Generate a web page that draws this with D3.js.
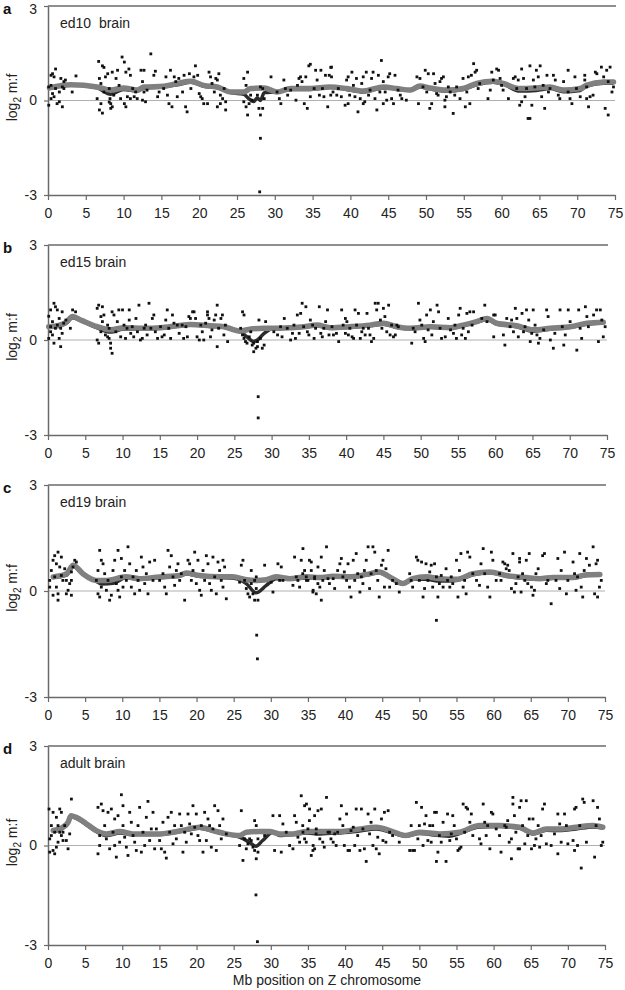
<!DOCTYPE html>
<html>
<head>
<meta charset="utf-8">
<script src="https://cdn.jsdelivr.net/npm/d3@7"></script>
<style>
  body { margin: 0; background: #fff; }
  svg { font-family: "Liberation Sans", Arial, sans-serif; }
</style>
</head>
<body>
<div id="chart"></div>
<script>

// x ticks (Mb) and y ticks (log2 m:f)
const xTicks = [0, 5, 10, 15, 20, 25, 30, 35, 40, 45, 50, 55, 60, 65, 70, 75];
const yTicks = [-3, 0, 3];
const panelLetters = ["a", "b", "c", "d"];
const panelNames = ["ed10  brain", "ed15 brain", "ed19 brain", "adult brain"];

// points: [Mb position, log2 m:f]
const ed10Points = [[0.4,0.48],[0.4,0.8],[0.6,0.85],[0.8,0.75],[1.0,1.0],[0.1,-0.15],[0.4,0.06],[1.2,-0.1],[1.5,-0.04],[1.9,-0.2],[1.7,0.7],[2.1,0.6],[2.3,0.65],[1.0,0.38],[1.5,0.27],[1.9,0.43],[0.6,0.22],[0.8,0.12],[0.1,0.43],[2.1,0.38],[3.7,0.78],[3.2,0.27],
[6.7,1.24],[7.2,1.1],[7.4,1.05],[6.8,0.7],[7.0,0.54],[6.5,0.06],[6.8,-0.3],[7.2,-0.4],[7.0,-0.1],[7.4,0.27],[7.6,0.75],[7.9,0.85],[8.1,0.38],[8.2,0.06],[8.3,-0.1],[8.5,-0.2],[8.5,0.9],[8.7,0.17],[8.3,-0.25],[8.1,-0.05],[9.0,0.7],[9.2,0.96],[9.4,0.48],[9.6,0.06],[9.8,1.38],[10.1,1.22],[10.3,0.9],[10.1,-0.1],[10.3,-0.2],[10.5,0.12],[10.7,1.0],[10.9,0.8],[11.2,0.38],[10.9,0.06],[11.4,0.12],[11.6,0.27],[11.8,0.06],[12.3,0.96],[12.7,0.96],[12.5,0.6],[12.7,0.27],[12.5,0.01],[12.9,-0.04],[13.1,0.33],[13.6,1.48],[14.0,0.8],[14.2,0.93],[14.5,0.12],[14.7,0.27],
[15.3,0.38],[15.6,0.75],[15.8,0.17],[16.0,-0.1],[16.2,0.96],[16.4,-0.2],[16.7,0.75],[16.9,0.6],[17.1,0.12],[17.3,0.7],[17.8,0.27],[18.0,0.8],[18.2,-0.2],[18.4,-0.36],[18.7,0.85],[18.9,0.38],[19.3,0.75],[19.5,1.1],[19.8,0.8],[20.0,0.22],[20.2,0.12],[20.4,0.06],[20.6,-0.1],[21.1,-0.1],[21.3,0.9],[21.5,0.75],[21.7,0.54],[22.0,0.27],[22.2,0.7],[22.4,0.65],[22.6,0.85],[22.8,-0.1],[23.1,0.06],[23.3,0.38],[23.5,-0.3],[22.4,-0.2],[22.8,0.17],[23.5,-0.04],
[25.9,0.7],[26.2,0.48],[26.4,0.9],[25.9,-0.04],[26.2,-0.2],[26.4,-0.46],[26.6,-0.1],[26.8,0.17],[27.0,0.01],[27.7,0.17],[27.9,-0.25],[28.1,-0.46],[28.4,-0.25],[28.1,0.43],[28.4,0.38],[28.6,0.06],[28.1,-1.2],[28.0,-2.9],
[29.5,0.75],[30.3,0.27],[30.6,0.06],[30.8,-0.1],[31.2,0.65],[31.4,0.38],[31.7,0.17],[32.1,0.33],[32.8,0.01],[33.0,0.48],[33.2,0.7],[33.4,0.75],[33.6,0.6],[33.9,-0.1],[34.1,0.75],[34.3,-0.25],[34.5,1.1],[34.7,1.15],[34.7,0.12],[35.2,0.38],[35.4,0.96],[35.6,0.65],[35.9,0.17],[36.1,0.96],[36.3,0.38],[36.5,0.12],[36.7,0.8],[37.0,-0.2],[37.2,0.8],[37.4,1.05],[37.4,0.17],
[37.5,1.06],[37.5,0.75],[37.7,0.27],[38.2,0.17],[38.4,0.38],[38.8,0.12],[39.3,-0.15],[39.5,0.65],[39.7,0.75],[39.7,-0.1],[39.9,0.17],[40.2,0.9],[40.4,0.48],[40.6,0.12],[40.8,0.7],[41.0,-0.36],[41.3,0.06],[41.5,0.54],[41.7,0.75],[41.7,-0.1],[41.9,-0.04],[42.1,0.9],[42.4,0.17],[42.6,0.33],[42.8,0.7],[43.0,0.9],[43.25,0.06],[43.5,-0.3],[43.7,0.8],[43.9,0.27],[44.1,1.27],[44.35,0.6],[44.35,-0.1],[44.6,0.27],[44.8,0.01],[45.0,0.75],[45.2,0.85],[45.45,0.06],[45.7,-0.1],[45.9,0.8],[46.3,0.33],[46.6,0.17],[46.8,0.06],[47.4,0.01],
[48.8,0.75],[49.0,-0.1],[49.2,0.7],[49.6,0.43],[49.9,0.96],[50.1,0.27],[50.3,0.85],[50.5,-0.25],[50.75,-0.1],[51.0,0.85],[51.2,0.54],[51.4,0.22],[51.6,0.17],[51.85,0.6],[52.05,0.7],[52.3,0.75],[52.5,0.01],[52.5,-0.2],[52.7,0.12],[52.95,0.43],[53.2,0.27],[53.6,-0.41],[53.8,0.17],[54.05,0.43],[54.5,0.06],[54.9,0.7],[55.2,-0.2],[55.4,0.27],[55.6,0.75],[55.8,-0.1],[56.0,0.8],[56.3,1.17],[56.5,0.9],[56.7,0.96],[56.9,0.38],[57.1,0.54],[58.2,0.06],[58.5,0.33],[58.7,0.9],[58.9,0.65],[59.35,1.0],[59.6,0.96],[59.8,0.7],[60.0,0.48],[60.2,0.33],[60.9,0.06],
[61.55,0.7],[61.8,0.75],[62.0,0.38],[62.2,0.65],[62.4,-0.15],[62.65,1.0],[62.65,-0.04],[62.9,0.7],[63.1,0.12],[63.3,0.38],[63.5,-0.57],[63.75,1.1],[63.75,-0.57],[64.0,-0.15],[64.2,0.65],[64.4,0.43],[64.6,0.96],[64.85,0.75],[65.1,1.1],[65.3,0.12],[65.5,0.48],[65.7,-0.25],[66.0,0.8],[66.2,0.27],[66.4,0.38],[66.85,0.8],[67.1,0.65],[67.5,0.17],[67.7,0.06],[68.2,0.6],[68.8,0.96],[68.8,0.27],[69.05,0.06],[69.3,-0.1],[69.7,0.75],[69.9,0.38],[70.4,0.12],[71.0,0.8],[71.0,0.65],[71.25,0.43],[71.25,0.06],[71.5,-0.2],[71.7,0.12],[72.1,0.17],[72.4,0.9],[72.6,0.85],[73.2,1.06],[73.5,0.75],[73.7,-0.25],[73.9,0.96],[74.1,0.6],[74.1,-0.46],[74.35,1.06],[74.6,0.27],[74.8,0.43]];

const ed15Points = [[0.1,0.75],[0.35,0.95],[0.6,0.58],[0.8,1.16],[1.0,1.05],[1.25,0.95],[1.5,0.68],[0.35,0.26],[0.6,0.16],[0.8,-0.1],[1.0,0.37],[1.25,0.47],[1.5,0.05],[1.7,-0.21],[1.9,0.89],[1.9,0.21],[2.1,0.53],[0.1,0.05],[0.35,0.42],[1.7,0.37],[2.4,0.63],[3.3,0.95],[3.7,0.89],[3.0,0.37],
[6.6,1.0],[6.8,1.1],[7.3,1.05],[7.1,0.74],[6.6,0.0],[6.8,-0.1],[7.1,0.26],[7.3,0.58],[7.5,0.79],[7.7,0.16],[8.0,0.1],[8.2,0.05],[8.4,-0.1],[8.6,-0.42],[8.4,-0.26],[8.2,0.37],[8.0,0.47],[8.6,0.89],[8.85,0.79],[9.1,0.26],[9.3,0.58],[9.5,0.95],[9.75,0.1],[10.0,0.95],[10.2,0.47],[10.4,0.05],[10.6,0.37],[10.9,0.63],[10.9,0.95],[11.1,0.21],[11.3,0.42],[11.5,0.1],[11.8,0.68],[12.0,0.26],[12.2,1.1],[12.4,0.0],[12.65,0.05],[12.9,0.37],[13.1,0.47],[13.3,0.16],[13.55,1.16],[13.8,0.37],[14.0,0.68],[14.2,0.79],[14.4,0.26],[14.7,0.05],
[15.1,0.42],[15.3,0.1],[15.6,0.16],[15.8,0.63],[16.0,0.95],[16.2,0.37],[16.45,0.05],[16.7,0.79],[16.9,0.53],[17.35,0.47],[17.6,0.21],[18.0,0.47],[18.2,0.05],[18.5,0.42],[18.7,0.1],[18.9,0.74],[19.1,0.68],[19.4,0.89],[19.6,0.89],[19.8,0.68],[20.0,0.1],[20.3,0.0],[20.5,0.47],[20.7,0.26],[20.9,0.0],[21.15,0.53],[21.4,0.79],[21.4,0.89],[21.6,0.68],[21.8,0.1],[22.0,0.32],[22.3,0.63],[22.5,0.79],[22.7,1.1],[22.7,-0.21],[22.9,0.37],[23.2,0.68],[23.4,0.79],[23.6,0.16],[23.8,0.47],[24.1,-0.05],
[25.85,0.37],[26.1,0.89],[26.3,0.79],[26.1,0.16],[26.3,0.05],[26.5,-0.05],[26.7,-0.1],[27.0,0.1],[27.2,0.26],[27.4,-0.16],[27.6,-0.1],[27.9,-0.26],[28.1,-0.05],[28.3,0.63],[28.5,0.05],[28.75,-0.26],[29.0,-0.16],[28.1,-0.21],[27.6,-0.37],[29.2,0.58],[28.2,-1.79],[28.2,-2.46],
[30.3,0.26],[30.8,0.16],[31.2,0.42],[31.4,0.1],[31.7,0.68],[32.1,0.37],[32.55,0.0],[32.8,0.21],[33.0,0.47],[33.2,0.05],[33.45,0.79],[33.7,0.21],[33.9,0.84],[34.1,1.16],[34.3,0.42],[34.6,1.05],[34.8,0.26],[35.0,0.16],[35.2,0.63],[35.5,0.47],[35.7,0.05],[35.9,0.37],[36.4,1.05],[36.6,0.21],[36.8,0.1],[37.0,0.37],[37.25,0.58],[37.5,0.95],[37.7,0.16],
[38.1,0.42],[38.3,0.16],[38.7,0.21],[39.0,-0.05],[39.4,0.95],[39.6,0.47],[39.9,0.68],[39.9,0.21],[40.1,0.58],[40.3,0.16],[40.5,0.37],[40.8,0.1],[41.0,0.05],[41.2,0.95],[41.4,0.47],[41.65,0.84],[41.9,0.05],[42.1,0.26],[42.3,0.37],[42.55,0.16],[42.8,0.84],[43.0,0.37],[43.2,0.16],[43.4,-0.05],[43.7,0.05],[43.9,1.16],[44.1,0.95],[44.3,1.16],[44.6,0.63],[44.8,0.37],[45.0,1.0],[45.2,0.74],[45.45,0.26],[45.7,1.1],[45.9,0.16],[46.1,0.47],[46.35,0.1],[46.6,0.16],[46.8,0.47],[47.0,0.42],
[48.8,-0.1],[49.0,0.37],[49.25,0.26],[49.7,1.16],[49.9,0.63],[50.15,0.47],[50.4,0.05],[50.6,-0.05],[50.8,0.79],[51.0,0.32],[51.3,0.95],[51.5,0.16],[51.7,0.58],[52.2,1.1],[52.4,0.89],[52.6,0.37],[52.8,0.05],[53.3,0.1],[53.7,0.68],[54.0,0.32],[54.4,0.21],[54.6,0.47],[54.8,0.05],[55.1,0.79],[55.3,1.0],[55.5,0.16],[55.7,0.37],[56.0,0.05],[56.2,0.84],[56.4,0.26],[56.6,0.89],[56.9,0.47],[57.1,0.89],[58.2,0.68],[58.6,1.1],[58.9,0.58],[59.8,0.79],[59.8,0.1],[60.0,0.79],
[61.1,0.16],[61.3,-0.16],[61.55,0.68],[62.0,0.42],[62.2,0.63],[62.45,0.26],[62.7,1.0],[62.9,0.68],[63.1,0.1],[63.6,0.84],[63.8,0.26],[64.0,0.42],[64.2,0.95],[64.5,0.63],[64.7,-0.05],[64.9,0.21],[65.1,0.95],[65.35,0.47],[65.6,0.16],[65.8,-0.1],[66.0,0.05],[66.5,0.32],[66.9,0.95],[67.1,0.74],[67.4,0.0],[67.8,-0.26],[68.0,0.21],[68.7,0.95],[69.0,0.42],[69.2,-0.16],[69.4,0.16],[69.8,0.95],[70.05,0.58],[70.95,-0.32],[71.2,0.95],[71.4,0.37],[71.6,0.05],[72.1,1.05],[72.3,0.74],[72.5,0.42],[73.2,0.79],[73.6,0.95],[73.85,-0.05],[74.1,0.95],[74.3,0.63],[74.5,0.1],[74.75,0.42]];

const ed19Points = [[0.23,0.3],[0.23,0.11],[0.45,0.58],[0.68,0.87],[0.9,1.0],[1.13,0.77],[1.35,1.1],[0.9,0.4],[1.13,0.11],[1.35,-0.08],[0.68,-0.12],[1.58,0.68],[1.8,0.44],[1.8,0.96],[2.0,0.3],[2.25,0.63],[2.47,-0.08],[2.7,0.02],[2.92,0.21],[3.15,0.54],[3.15,-0.12],[1.35,-0.26],[2.47,0.3],[3.37,0.68],[3.6,0.87],[3.82,0.82],[3.15,0.3],
[6.96,1.15],[7.18,0.87],[6.73,0.58],[6.51,0.3],[6.73,-0.08],[6.96,-0.17],[7.18,0.11],[7.41,0.77],[7.63,0.49],[7.86,0.02],[8.08,0.3],[8.3,-0.26],[8.53,-0.12],[8.75,0.58],[8.98,0.87],[9.2,0.21],[9.43,0.02],[9.65,-0.17],[9.43,1.15],[9.88,0.4],[9.88,0.92],[10.1,0.11],[10.32,0.58],[10.55,0.3],[10.77,1.25],[11.0,0.77],[11.22,0.11],[11.45,0.4],[11.67,-0.08],[11.89,0.58],[12.12,0.3],[12.34,0.02],[12.57,0.96],[12.79,0.68],[13.02,0.21],[13.24,0.49],[13.46,-0.08],[13.69,0.82],[14.14,0.3],[14.36,0.87],
[15.03,0.3],[15.48,0.49],[15.71,0.11],[15.93,-0.08],[16.16,1.15],[16.38,0.68],[16.6,1.0],[16.83,0.4],[17.05,0.16],[17.28,0.58],[17.5,0.77],[17.73,0.3],[17.95,0.49],[18.4,-0.26],[18.85,0.87],[19.07,0.77],[19.3,0.3],[19.52,0.58],[19.75,1.1],[19.97,0.21],[20.19,0.87],[20.42,0.02],[20.64,-0.12],[20.87,0.58],[21.09,0.3],[21.32,1.0],[21.54,0.77],[21.76,0.21],[21.99,0.02],[22.21,0.96],[22.44,0.4],[22.66,-0.08],[22.89,0.82],[23.11,0.58],[23.33,0.3],[23.56,0.87],[23.78,0.68],[24.01,-0.22],[23.56,0.11],
[25.8,0.25],[26.03,0.73],[26.25,0.87],[26.47,0.3],[26.7,0.07],[26.92,-0.08],[27.15,-0.17],[27.37,0.58],[27.6,-0.08],[27.82,-0.26],[28.04,0.07],[28.27,-0.26],[28.04,0.4],[27.82,0.3],[27.37,0.21],[28.1,-1.25],[28.2,-1.92],
[29.17,0.73],[30.06,0.25],[30.29,-0.03],[30.96,0.77],[31.19,0.3],[31.41,0.68],[31.63,0.3],[32.98,0.16],[33.2,0.96],[33.43,0.4],[33.65,0.3],[33.88,0.11],[34.1,0.87],[34.33,1.2],[34.55,0.58],[34.77,0.4],[35.0,0.3],[35.45,0.82],[35.67,-0.03],[35.9,0.4],[36.12,-0.08],[36.34,0.21],
[34.3,0.49],[34.8,0.3],[35.2,0.87],[35.45,0.58],[35.7,0.02],[35.9,0.35],[36.35,0.68],[36.6,0.11],[36.8,0.96],[36.8,-0.26],[37.0,0.3],[37.2,0.58],[37.5,1.25],[37.7,0.35],[37.9,0.21],[38.4,0.35],[38.6,0.07],[39.0,0.58],[39.3,0.77],[39.5,0.92],[39.7,0.4],[39.9,0.54],[40.2,0.3],[40.4,0.77],[40.6,0.11],[40.8,-0.17],[41.1,0.87],[41.3,0.3],[41.5,1.06],[41.7,0.49],[42.0,-0.03],[42.2,0.4],[42.4,0.21],[42.6,0.58],[42.85,0.87],[43.1,1.25],[43.3,0.07],[43.5,0.49],[43.75,1.25],[44.0,1.1],[44.2,0.58],[44.4,0.3],[44.6,-0.17],[44.9,0.73],[45.1,0.87],[45.3,0.11],[45.5,0.63],[45.8,1.15],[46.0,0.11],[46.4,0.3],[46.9,0.21],[47.3,-0.03],
[48.7,0.49],[48.9,0.3],[49.1,0.11],[49.6,0.96],[49.8,0.87],[50.0,0.3],[50.3,0.82],[50.5,-0.17],[50.7,0.07],[50.9,0.77],[51.15,0.3],[51.4,0.54],[51.6,0.73],[51.8,0.11],[52.05,0.77],[52.3,0.4],[52.3,-0.83],[52.5,-0.17],[52.7,0.21],[52.95,0.44],[53.2,0.11],[53.6,0.63],[53.8,0.3],[54.1,0.11],[54.3,0.4],[54.5,0.21],[55.0,0.87],[55.2,-0.17],[55.4,0.58],[55.6,1.06],[55.9,0.11],[56.1,0.3],[56.3,-0.08],[56.5,1.1],[56.8,0.96],[57.2,0.49],[57.7,0.3],[58.1,0.16],[58.3,0.77],[58.6,1.2],[58.8,0.49],[59.2,0.11],[59.5,-0.17],[59.7,1.1],[59.9,0.87],
[60.35,0.3],[60.8,0.49],[61.0,0.3],[61.25,0.82],[61.5,0.77],[61.7,0.63],[61.9,0.73],[62.1,0.58],[62.4,0.07],[62.6,1.06],[62.8,-0.03],[63.0,0.21],[63.3,0.4],[63.5,0.82],[63.5,0.92],[63.7,-0.03],[63.9,0.49],[64.2,0.3],[64.4,0.87],[64.6,0.21],[64.8,1.06],[65.1,0.11],[65.3,-0.12],[65.5,0.02],[65.7,0.49],[66.0,0.63],[66.6,1.0],[66.85,1.06],[67.1,0.21],[67.3,0.3],[67.75,-0.36],[68.4,0.3],[68.65,0.92],[68.9,0.07],[69.1,0.58],[69.55,1.1],[69.8,-0.08],[70.0,0.3],[70.7,0.82],[70.9,0.49],[71.1,0.02],[71.3,0.4],[71.6,1.06],[71.8,0.11],[72.0,-0.17],[72.2,0.58],[72.5,0.92],[72.9,0.73],[73.4,1.25],[73.6,-0.08],[73.8,0.77],[74.0,0.87],[74.0,-0.17],[74.25,0.11],[74.5,0.3]];

const adultPoints = [[0.14,1.1],[0.23,0.2],[0.23,-0.2],[0.45,0.6],[0.68,1.0],[0.9,0.4],[1.13,0.85],[1.35,0.1],[1.58,1.1],[1.8,0.3],[0.68,-0.15],[1.13,-0.05],[0.9,-0.25],[1.58,0.4],[2.02,0.4],[1.35,0.6],[2.25,0.6],[1.8,1.0],[2.7,-0.1],[2.92,0.35],[3.15,1.4],[2.47,0.15],[2.02,0.15],[0.45,0.3],
[6.73,1.15],[6.96,0.3],[6.73,-0.25],[6.96,0.0],[7.18,1.25],[7.41,1.05],[7.63,0.6],[7.86,0.2],[8.08,1.0],[8.3,-0.1],[8.53,1.1],[8.75,0.4],[8.98,0.8],[8.98,0.0],[9.2,-0.35],[9.43,0.9],[9.65,0.1],[9.88,1.53],[10.1,1.2],[10.1,0.6],[10.32,0.25],[10.55,-0.05],[10.77,-0.3],[11.0,1.0],[11.22,0.7],[11.45,0.3],[11.67,0.1],[11.89,-0.15],[12.12,0.6],[12.34,1.15],[12.57,-0.2],[12.79,0.4],[13.02,0.0],[13.24,0.85],[13.46,1.33],[13.69,0.15],[13.91,0.5],[14.14,1.0],[14.36,-0.1],[14.59,0.5],
[15.03,0.15],[15.26,-0.1],[15.48,0.7],[15.71,-0.2],[15.93,-0.38],[16.16,0.85],[16.38,0.4],[16.6,1.0],[16.83,0.05],[17.05,0.6],[17.28,0.2],[17.73,0.95],[17.95,0.6],[18.17,-0.2],[18.4,0.4],[18.62,0.1],[18.85,0.95],[19.07,0.65],[19.3,0.35],[19.52,1.2],[19.75,0.55],[19.97,0.95],[20.19,0.3],[20.42,0.15],[20.64,0.6],[20.87,-0.2],[21.09,1.0],[21.32,0.15],[21.54,0.8],[21.76,0.6],[21.99,-0.05],[22.21,0.5],[22.44,1.2],[22.66,-0.15],[22.89,1.05],[23.11,0.6],[23.33,0.2],[23.56,0.8],[24.01,0.35],
[25.8,0.0],[26.03,1.05],[26.25,-0.45],[26.47,0.2],[26.7,-0.1],[26.92,0.05],[27.15,0.2],[27.37,0.15],[27.6,-0.05],[27.82,0.75],[28.04,0.6],[28.04,-0.4],[28.27,-0.2],[27.82,-0.15],[28.27,0.2],[28.0,-1.49],[28.2,-2.9],
[29.17,0.3],[30.29,0.9],[30.51,-0.15],[31.19,0.9],[31.41,-0.2],[31.63,0.65],[32.08,0.4],[32.53,0.0],[32.98,-0.1],[33.2,0.9],[33.43,0.7],[33.65,0.25],[33.88,0.1],[34.1,1.5],[34.33,0.4],[34.55,1.2],[34.77,0.1],[35.22,1.1],[35.45,-0.3],[35.67,-0.15],[35.9,0.9],[36.12,0.5],
[34.3,0.6],[34.55,0.2],[34.8,1.25],[35.0,0.5],[35.2,0.75],[35.7,0.0],[35.9,-0.1],[36.1,0.35],[36.35,1.05],[36.6,0.2],[36.8,1.1],[37.0,0.1],[37.2,-0.05],[37.5,1.45],[37.7,0.4],[37.9,0.4],[38.1,0.2],[38.4,0.1],[38.6,0.35],[38.8,0.0],[39.0,0.4],[39.3,0.8],[39.5,1.2],[39.7,0.6],[39.9,0.0],[40.2,0.95],[40.4,-0.15],[40.6,-0.15],[40.8,0.45],[41.1,0.55],[41.3,0.0],[41.5,1.1],[41.7,0.3],[42.0,-0.15],[42.2,1.1],[42.4,0.5],[42.6,-0.1],[42.85,-0.48],[43.1,0.95],[43.3,0.35],[43.5,0.7],[43.75,0.0],[44.0,1.1],[44.2,-0.1],[44.4,0.25],[44.6,-0.25],[44.9,0.8],[45.1,0.15],[45.3,1.0],[45.5,0.1],[45.8,1.05],[46.0,0.4],[46.4,0.3],[47.3,0.1],
[48.7,-0.15],[48.9,0.6],[49.1,-0.15],[49.35,-0.15],[49.6,1.3],[49.8,0.2],[50.0,0.6],[50.3,1.15],[50.5,0.0],[50.7,0.65],[50.9,0.9],[51.15,0.15],[51.4,0.6],[51.6,0.1],[51.8,0.6],[52.05,1.0],[52.3,1.0],[52.3,-0.48],[52.5,-0.2],[52.7,0.3],[52.95,0.1],[53.2,0.7],[53.6,-0.48],[53.8,0.95],[54.1,0.15],[54.3,0.35],[54.5,0.9],[54.7,0.6],[55.0,0.2],[55.2,-0.15],[55.4,-0.1],[55.6,-0.05],[55.9,1.25],[56.1,0.4],[56.3,1.15],[56.5,1.1],[56.8,0.7],[57.0,0.95],[57.2,0.3],[58.1,0.2],[58.3,0.05],[58.6,1.25],[58.8,0.7],[59.0,0.3],[59.2,0.6],[59.5,-0.1],[59.7,1.0],[59.9,0.95],
[60.35,0.5],[60.8,0.3],[61.0,-0.2],[61.5,0.6],[61.7,0.55],[61.9,0.75],[62.1,0.1],[62.4,-0.4],[62.4,0.2],[62.6,1.45],[62.6,1.25],[62.8,0.9],[63.0,0.4],[63.3,-0.1],[63.5,1.15],[63.5,-0.1],[63.7,1.35],[63.9,0.6],[64.2,0.05],[64.4,1.35],[64.6,0.3],[64.8,0.8],[65.1,-0.1],[65.3,0.8],[65.5,0.0],[65.7,0.2],[66.0,0.6],[66.2,-0.05],[66.4,0.3],[66.6,1.1],[66.85,1.25],[67.1,0.05],[67.75,0.0],[68.2,0.35],[68.65,0.95],[68.65,-0.25],[68.9,0.65],[69.1,0.1],[69.55,0.95],[69.8,0.6],[70.0,0.05],[70.7,0.15],[70.9,1.1],[70.9,-0.15],[71.1,1.15],[71.3,0.0],[71.6,0.6],[71.8,-0.68],[72.0,1.4],[72.2,1.3],[72.5,0.1],[73.4,1.35],[73.6,-0.35],[73.8,0.6],[74.0,1.15],[74.25,0.8],[74.5,0.0],[74.7,0.1]];

// smoothed trend (light, broad) and second trend (dark) for each panel
const ed10Gray = [[0.2,0.4],[3,0.5],[6.5,0.43],[8.3,0.33],[10,0.4],[11.8,0.33],[12.7,0.43],[15.3,0.45],[17.1,0.54],[18.9,0.61],[20.6,0.48],[22.4,0.43],[24.2,0.27],[25.9,0.27],[26.8,0.38],[28.6,0.4],[30.3,0.27],[32.1,0.38],[34.7,0.38],[37.3,0.43],[39.5,0.38],[41.7,0.3],[44.4,0.43],[46.1,0.38],[47.9,0.33],[49.2,0.46],[50.5,0.4],[52.7,0.33],[54.9,0.38],[56.7,0.54],[58.9,0.61],[60.2,0.54],[62.4,0.38],[64.6,0.4],[66.4,0.43],[68.2,0.33],[70.4,0.38],[71.2,0.48],[73.5,0.59],[74.8,0.59]];
const ed10Dark = [[0.2,0.4],[3,0.5],[6.5,0.4],[8.3,0.2],[10,0.35],[11.8,0.3],[12.7,0.4],[15.3,0.43],[17.1,0.5],[18.9,0.58],[20.6,0.45],[22.4,0.4],[24.2,0.25],[25.9,0.2],[26.6,0.05],[27.2,-0.03],[27.7,0.08],[28.1,0.0],[28.6,0.25],[30.3,0.27],[32.1,0.35],[34.7,0.35],[37.4,0.42],[39.5,0.35],[41.7,0.27],[44.4,0.4],[46.1,0.36],[47.9,0.32],[49.2,0.43],[50.5,0.37],[52.7,0.3],[54.9,0.35],[56.7,0.5],[58.9,0.58],[60.2,0.52],[62.4,0.3],[64.6,0.32],[66.4,0.38],[68.2,0.28],[70.4,0.32],[71.2,0.45],[73.5,0.55],[74.8,0.55]];

const ed15Gray = [[0.1,0.42],[1.3,0.45],[2.4,0.55],[3.3,0.74],[4.5,0.62],[6.6,0.42],[8.4,0.32],[10.2,0.39],[12.9,0.37],[15.1,0.39],[17.4,0.45],[19.1,0.49],[21.8,0.45],[23.6,0.42],[25.8,0.28],[27.2,0.35],[29,0.37],[30.8,0.37],[32.6,0.39],[34.3,0.42],[36.1,0.47],[37.85,0.39],[40.5,0.42],[43.2,0.47],[45,0.53],[46.8,0.42],[48.6,0.37],[51.3,0.42],[54,0.39],[55.7,0.47],[57.5,0.58],[58.9,0.68],[60.2,0.53],[62.9,0.45],[65.1,0.32],[67.4,0.37],[70.1,0.42],[72.3,0.53],[74.5,0.56]];
const ed15Dark = [[0.1,0.4],[1.3,0.43],[2.4,0.52],[3.3,0.7],[4.5,0.6],[6.6,0.38],[8.4,0.25],[10.2,0.35],[12.9,0.35],[15.1,0.37],[17.4,0.43],[19.1,0.47],[21.8,0.43],[23.6,0.4],[25.8,0.26],[26.7,0.1],[27.6,-0.05],[28.1,0.0],[29,0.21],[30.3,0.37],[32.6,0.37],[34.3,0.4],[36.1,0.45],[37.85,0.37],[40.5,0.4],[43.2,0.45],[45,0.5],[46.8,0.4],[48.6,0.35],[51.3,0.4],[54,0.37],[55.7,0.45],[57.5,0.56],[58.9,0.65],[60.2,0.5],[62.9,0.42],[65.1,0.28],[67.4,0.34],[70.1,0.4],[72.3,0.5],[74.5,0.54]];

const ed19Gray = [[0.7,0.4],[2.5,0.49],[3.4,0.73],[4.7,0.49],[6.5,0.3],[7.9,0.3],[10.5,0.4],[12.3,0.35],[15,0.4],[17.7,0.44],[18.6,0.51],[20.4,0.44],[23.1,0.4],[24.9,0.4],[26.7,0.32],[28,0.3],[29.4,0.32],[30.7,0.4],[32.5,0.35],[34.8,0.4],[36.6,0.38],[38.4,0.42],[40.6,0.4],[42.9,0.47],[44.6,0.54],[46,0.4],[47.8,0.21],[49.1,0.35],[50.9,0.4],[52.7,0.35],[55,0.33],[57.2,0.49],[59.5,0.54],[61.7,0.44],[64.4,0.38],[66.2,0.35],[68,0.38],[70.7,0.38],[72.5,0.46],[74.3,0.47]];
const ed19Dark = [[0.7,0.38],[2.5,0.45],[3.4,0.7],[4.7,0.47],[6.5,0.28],[7.2,0.2],[8.8,0.22],[10.5,0.38],[12.3,0.33],[15,0.38],[17.7,0.42],[18.6,0.48],[20.4,0.42],[23.1,0.38],[25,0.36],[26.7,0.21],[28,-0.05],[29.4,0.16],[30.7,0.35],[32.5,0.33],[34.8,0.37],[36.6,0.36],[38.4,0.4],[40.6,0.38],[42.9,0.45],[44.6,0.52],[46,0.38],[47.8,0.2],[49.1,0.33],[50.9,0.33],[52.7,0.28],[55,0.3],[57.2,0.46],[59.5,0.52],[61.7,0.42],[64.4,0.35],[66.2,0.33],[68,0.36],[70.7,0.36],[72.5,0.44],[74.3,0.45]];

const adultGray = [[0.7,0.45],[2,0.55],[2.7,0.7],[3.1,0.9],[3.8,0.85],[5.2,0.65],[6.5,0.45],[7.9,0.35],[9.7,0.42],[11.4,0.35],[13.2,0.35],[15,0.35],[16.8,0.4],[18.6,0.48],[20.4,0.55],[22.2,0.45],[24,0.35],[25.8,0.3],[26.7,0.4],[28.5,0.42],[29.8,0.42],[31.2,0.35],[33,0.35],[34.8,0.42],[36.6,0.42],[39.3,0.42],[41.5,0.48],[44.2,0.55],[46.4,0.42],[48.2,0.3],[50,0.4],[52.7,0.35],[55.4,0.4],[58.1,0.6],[60.8,0.6],[63.5,0.55],[65.3,0.38],[67.1,0.5],[68.9,0.5],[71.1,0.55],[73.4,0.6],[74.7,0.55]];
const adultDark = [[0.7,0.42],[2,0.52],[2.7,0.68],[3.1,0.87],[3.8,0.82],[5.2,0.62],[6.5,0.42],[7.9,0.3],[9.7,0.38],[11.4,0.33],[13.2,0.33],[15,0.33],[16.8,0.38],[18.6,0.45],[20.4,0.52],[22.2,0.43],[24,0.33],[25.8,0.25],[27.1,0.1],[28,-0.02],[28.9,0.15],[30.3,0.4],[31.2,0.3],[33,0.33],[34.8,0.38],[36.6,0.35],[39.3,0.38],[41.5,0.42],[44.2,0.5],[46.4,0.38],[48.2,0.28],[50,0.36],[52.7,0.3],[54,0.28],[55.4,0.36],[58.1,0.56],[60.8,0.57],[63.5,0.52],[65.3,0.35],[67.1,0.46],[68.9,0.45],[71.1,0.5],[73.4,0.56],[74.7,0.53]];

const panels = [
  {pts: ed10Points, gray: ed10Gray, dark: ed10Dark, top: 6,   bottom: 195, right: 615},
  {pts: ed15Points, gray: ed15Gray, dark: ed15Dark, top: 245, bottom: 435, right: 607},
  {pts: ed19Points, gray: ed19Gray, dark: ed19Dark, top: 485, bottom: 697, right: 605},
  {pts: adultPoints, gray: adultGray, dark: adultDark, top: 746, bottom: 945, right: 605}
];

const width = 625;
const height = 990;
const left = 48;

const svg = d3.select("#chart")
  .append("svg")
  .attr("width", width)
  .attr("height", height)
  .attr("viewBox", [0, 0, width, height]);

panels.forEach((p, i) => {
  const x = d3.scaleLinear().domain([0, 75]).range([left, p.right]);
  const y = d3.scaleLinear().domain([-3, 3]).range([p.bottom, p.top]);
  const g = svg.append("g");

  // zero line
  g.append("line")
    .attr("x1", x(0)).attr("x2", x(75))
    .attr("y1", y(0)).attr("y2", y(0))
    .attr("stroke", "#b0b0b0").attr("stroke-width", 1);

  // top frame line
  g.append("line")
    .attr("x1", x(0)).attr("x2", x(75) + 1)
    .attr("y1", y(3)).attr("y2", y(3))
    .attr("stroke", "#6a6a6a").attr("stroke-width", 1.5);

  // x axis
  const xAxis = g.append("g")
    .attr("transform", `translate(0,${y(-3)})`)
    .call(d3.axisBottom(x).tickValues(xTicks).tickSize(5).tickPadding(8).tickSizeOuter(0));
  xAxis.select(".domain").attr("stroke", "#6a6a6a").attr("stroke-width", 1.5);
  xAxis.selectAll(".tick line").attr("stroke", "#6a6a6a").attr("stroke-width", 1.2);
  xAxis.selectAll("text").attr("font-size", 14).attr("fill", "#222")
    .attr("font-family", "Liberation Sans, Arial, sans-serif");

  // y axis
  const yAxis = g.append("g")
    .attr("transform", `translate(${left},0)`)
    .call(d3.axisLeft(y).tickValues(yTicks).tickFormat(d => String(d))
      .tickSize(4).tickPadding(7).tickSizeOuter(0));
  yAxis.select(".domain").attr("stroke", "#6a6a6a").attr("stroke-width", 1.5);
  yAxis.selectAll(".tick line").attr("stroke", "#6a6a6a").attr("stroke-width", 1.2);
  yAxis.selectAll("text").attr("font-size", 14).attr("fill", "#222")
    .attr("font-family", "Liberation Sans, Arial, sans-serif")
    .attr("dy", d => (i === 0 && d === 3) ? "0.55em" : "0.32em");

  // panel letter
  g.append("text")
    .attr("x", 3).attr("y", p.top + 8)
    .attr("font-size", 15).attr("font-weight", "bold").attr("fill", "#111")
    .text(panelLetters[i]);

  // inner label
  g.append("text")
    .attr("x", 60).attr("y", p.top + 22)
    .attr("font-size", 14).attr("fill", "#222")
    .style("white-space", "pre")
    .text(panelNames[i]);

  // y title
  const yt = g.append("text")
    .attr("transform", `translate(17,${y(0) - 3}) rotate(-90)`)
    .attr("text-anchor", "middle")
    .attr("font-size", 14).attr("fill", "#222");
  yt.append("tspan").text("log");
  yt.append("tspan").attr("font-size", 10).attr("dy", 4).text("2");
  yt.append("tspan").attr("dy", -4).text(" m:f");

  const line = d3.line()
    .x(d => x(d[0]))
    .y(d => y(d[1]))
    .curve(d3.curveMonotoneX);

  g.append("path")
    .datum(p.dark)
    .attr("d", line)
    .attr("fill", "none")
    .attr("stroke", "#2b2b2b")
    .attr("stroke-width", 3.5)
    .attr("stroke-linejoin", "round");

  g.append("path")
    .datum(p.gray)
    .attr("d", line)
    .attr("fill", "none")
    .attr("stroke", "#808080")
    .attr("stroke-width", 5.5)
    .attr("stroke-linejoin", "round")
    .attr("stroke-linecap", "round");

  g.selectAll(".pt")
    .data(p.pts)
    .enter()
    .append("rect")
      .attr("class", "pt")
      .attr("x", d => x(d[0]) - 1.4)
      .attr("y", d => y(d[1]) - 1.4)
      .attr("width", 2.8)
      .attr("height", 2.8)
      .attr("fill", "#111");
});

// x title
svg.append("text")
  .attr("x", 327).attr("y", 985)
  .attr("text-anchor", "middle")
  .attr("font-size", 14).attr("fill", "#222")
  .text("Mb position on Z chromosome");

</script>
</body>
</html>
